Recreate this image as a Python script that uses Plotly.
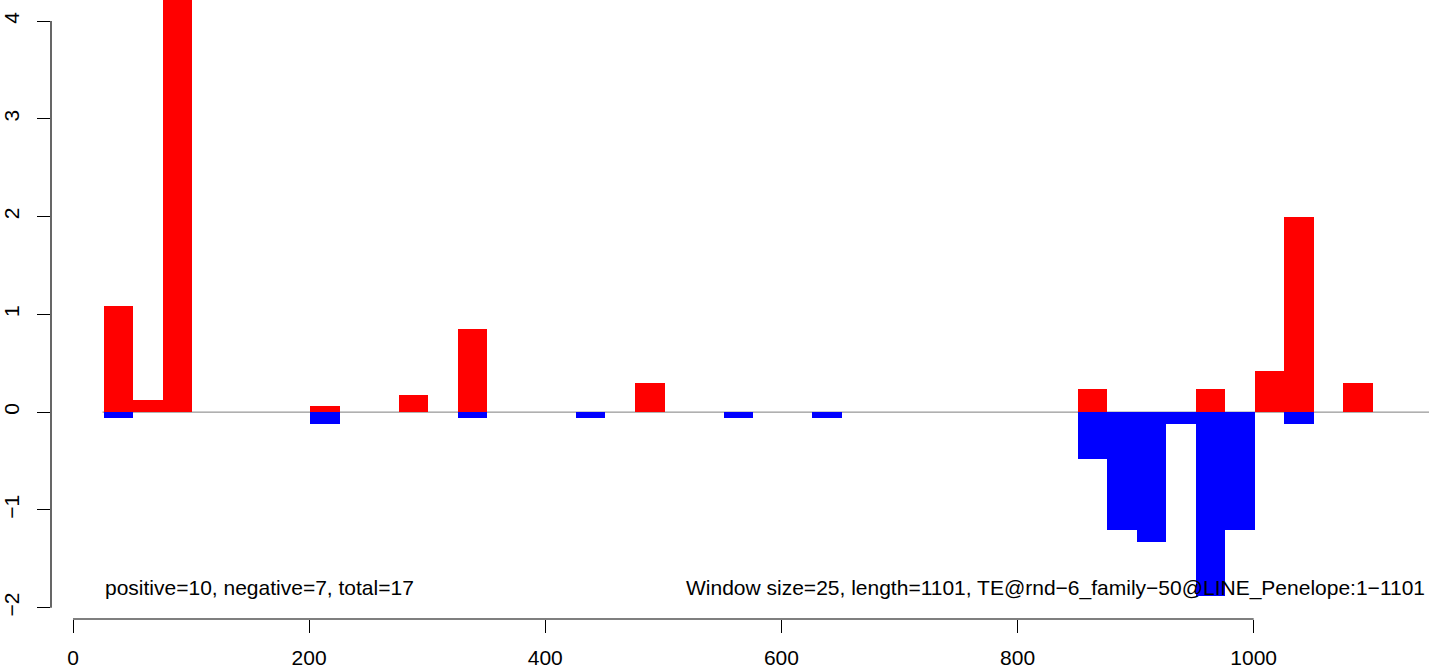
import plotly.graph_objects as go

# ---- data ----
window_size = 25
seq_start = 25
x_ticks = [0, 200, 400, 600, 800, 1000]
y_ticks = [-2, -1, 0, 1, 2, 3, 4]

pos_start = [26, 51, 76, 201, 276, 326, 476, 851, 951, 1001, 1026, 1076]
pos_value = [1.09, 0.12, 4.6, 0.06, 0.18, 0.85, 0.30, 0.24, 0.24, 0.42, 2.00, 0.30]

neg_start = [26, 201, 326, 426, 551, 626, 851, 876, 901, 926, 951, 976, 1026]
neg_value = [-0.06, -0.12, -0.06, -0.06, -0.06, -0.06, -0.48, -1.21, -1.33, -0.12, -1.88, -1.21, -0.12]

left_note = "positive=10, negative=7, total=17"
right_note = "Window size=25, length=1101, TE@rnd\u22126_family\u221250@LINE_Penelope:1\u22121101"

FONT = "Liberation Sans, Arial, Helvetica, sans-serif"
x_range = [-18.63, 1148.5]
y_range = [-2.116, 4.215]

fig = go.Figure()
fig.add_trace(go.Bar(x=pos_start, y=pos_value, width=window_size, offset=0,
                     marker=dict(color="#FF0000", line=dict(width=0)), showlegend=False))
fig.add_trace(go.Bar(x=neg_start, y=neg_value, width=window_size, offset=0,
                     marker=dict(color="#0000FF", line=dict(width=0)), showlegend=False))

# zero reference line
fig.add_shape(type="line", xref="x", yref="y", x0=seq_start, x1=x_range[1], y0=0, y1=0,
              line=dict(color="#7f7f7f", width=1), layer="below")
# R-style axis lines spanning the first to last tick
fig.add_shape(type="line", xref="x", yref="paper", x0=x_ticks[0], x1=x_ticks[-1], y0=0, y1=0,
              line=dict(color="black", width=1.2))
fig.add_shape(type="line", xref="paper", yref="y", x0=0, x1=0, y0=y_ticks[0], y1=y_ticks[-1],
              line=dict(color="black", width=1.2))

fig.add_annotation(text=left_note, x=pos_start[0], y=-1.796, xref="x", yref="y",
                   xanchor="left", yanchor="middle", showarrow=False,
                   font=dict(family=FONT, size=21, color="black"), borderpad=0)
fig.add_annotation(text=right_note, x=518, y=-1.796, xref="x", yref="y",
                   xanchor="left", yanchor="middle", showarrow=False,
                   font=dict(family=FONT, size=21, color="black"), borderpad=0)

fig.update_layout(
    width=1429, height=665,
    margin=dict(l=51, r=0, t=0, b=46, autoexpand=False),
    paper_bgcolor="white", plot_bgcolor="white",
    barmode="overlay", bargap=0,
    font=dict(family=FONT, size=21, color="black"),
)
fig.update_xaxes(range=x_range, tickmode="array", tickvals=x_ticks,
                 ticktext=[str(v) for v in x_ticks], automargin=False,
                 ticks="outside", ticklen=13, tickwidth=1.2, tickcolor="black",
                 showline=False, showgrid=False, zeroline=False,
                 tickfont=dict(family=FONT, size=21, color="black"),
                 ticklabelstandoff=7)
fig.update_yaxes(range=y_range, tickmode="array", tickvals=y_ticks,
                 ticktext=[str(v).replace("-", "\u2212") for v in y_ticks], automargin=False,
                 ticks="outside", ticklen=13, tickwidth=1.2, tickcolor="black",
                 showline=False, showgrid=False, zeroline=False, tickangle=-90,
                 tickfont=dict(family=FONT, size=21, color="black"),
                 ticklabelstandoff=10)

fig.write_html("out.html", config={"displayModeBar": False},
               post_script="document.body.style.margin='0';document.body.style.overflow='hidden';")
